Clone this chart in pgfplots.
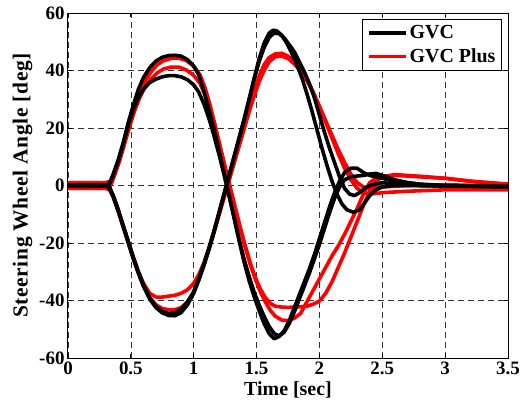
\documentclass[border=0pt]{standalone}
\usepackage{fontspec}
\setmainfont{Liberation Serif}
\newfontfamily\ylabfont[LetterSpace=3]{Liberation Serif}
\usepackage{pgfplots}
\pgfplotsset{compat=1.18}

\begin{document}
\begin{tikzpicture}
\begin{axis}[
    name=ax,
    scale only axis,
    width=440bp, height=345bp,
    xmin=0, xmax=3.5, ymin=-60, ymax=60,
    xtick={0,0.5,1,1.5,2,2.5,3,3.5},
    ytick={-60,-40,-20,0,20,40,60},
    grid=major,
    major grid style={black!80, line width=0.6bp, dash pattern=on 6bp off 4bp},
    axis line style={line width=1bp},
    tick style={black, line width=0.8bp},
    tick align=inside,
    major tick length=4bp,
    /pgf/number format/assume math mode=true,
    tick label style={font=\fontsize{19}{21}\selectfont\bfseries},
    xlabel style={font=\fontsize{20}{22}\selectfont\bfseries},
    ylabel style={font=\ylabfont\fontsize{21.5}{23}\selectfont\bfseries},
    xlabel={Time [sec]},
    ylabel={Steering Wheel Angle [deg]},
    legend style={at={(0.986,0.983)}, anchor=north east, draw=black, line width=0.8bp,
        font=\fontsize{20}{25}\selectfont\bfseries, cells={anchor=west},
        inner xsep=4bp, inner ysep=4bp, row sep=5bp},
    legend image code/.code={\draw[#1, line width=3.8bp] (0bp,0bp) -- (37bp,0bp);},
    every axis plot/.append style={line width=3.6bp, line join=round},
]
\addlegendimage{black}
\addlegendentry{GVC}
\addlegendimage{red}
\addlegendentry{GVC Plus}

% GVC Plus, positive first, peak 44
\addplot[red, forget plot] table {
0 1
0.30 1
0.34 1.5
0.37 4
0.41 9
0.45 15
0.49 21
0.53 27
0.57 32
0.61 36
0.66 39.5
0.71 42
0.76 43.4
0.82 44.2
0.88 44.3
0.94 43.5
1.00 41.5
1.05 38.5
1.09 34
1.13 28
1.17 21
1.21 13.5
1.25 6
1.29 -1
1.33 -8
1.37 -15
1.41 -21.5
1.45 -27.5
1.49 -32.5
1.53 -37
1.57 -40.5
1.61 -43.5
1.65 -45.5
1.70 -46.8
1.75 -47
1.80 -46.2
1.85 -44.5
1.90 -40.5
1.95 -36.5
2.00 -32.5
2.05 -28.5
2.10 -24.5
2.15 -21
2.20 -17
2.25 -12.5
2.30 -8
2.35 -3
2.40 1
2.45 2.5
2.50 3.3
2.60 3.5
2.70 3.3
2.80 3
3.00 2.5
3.20 1.5
3.50 0.5
};
% GVC Plus, positive first, peak 41
\addplot[red, forget plot] table {
0 -1
0.30 -1
0.34 0
0.37 3.5
0.41 8.5
0.45 14.5
0.49 20.5
0.53 26
0.57 30.5
0.61 34
0.66 37
0.71 39.2
0.76 40.5
0.82 41.2
0.88 41.2
0.94 40.2
1.00 38.3
1.05 35.5
1.09 31.5
1.13 26.5
1.17 20.5
1.21 13.5
1.25 6.5
1.29 -0.5
1.33 -7.5
1.37 -14.5
1.41 -21
1.45 -27
1.49 -32
1.53 -36
1.57 -39
1.61 -41
1.65 -42
1.70 -42.3
1.75 -42.4
1.80 -42.3
1.85 -42.2
1.90 -42
1.95 -41.3
2.00 -40.2
2.05 -37.5
2.10 -33.5
2.15 -28.5
2.20 -23.5
2.25 -18
2.30 -12.5
2.35 -7
2.40 -2
2.45 1.5
2.50 3
2.60 3.8
2.70 3.5
2.80 3.2
3.00 2.5
3.20 1.5
3.50 0.3
};
% GVC Plus, negative first, trough -43
\addplot[red, forget plot] table {
0 -1
0.30 -1
0.33 -1.5
0.36 -4
0.40 -9
0.44 -14.5
0.48 -20
0.52 -25.5
0.56 -30.5
0.60 -35
0.65 -39
0.70 -41.5
0.75 -42.8
0.80 -43.2
0.85 -43.2
0.90 -42.5
0.95 -40.5
1.00 -37
1.04 -32.5
1.08 -27.5
1.12 -22
1.16 -16
1.20 -10
1.24 -4
1.28 2
1.32 8
1.36 14
1.40 20
1.44 26.5
1.48 32.5
1.52 38
1.56 42
1.60 44.5
1.65 45.8
1.70 46
1.75 45
1.80 43
1.85 40.5
1.90 37
1.95 32.5
2.00 27.5
2.05 22
2.10 16.5
2.15 11
2.20 6
2.25 2
2.30 -1
2.35 -2.5
2.40 -3
2.50 -2.5
2.70 -2
3.00 -1.5
3.50 -1.5
};
% GVC Plus, negative first, trough -38
\addplot[red, forget plot] table {
0 0
0.30 0
0.33 -1
0.36 -3.5
0.40 -8.5
0.44 -14
0.48 -19.5
0.52 -25
0.56 -30
0.60 -34
0.65 -37.5
0.70 -38.8
0.75 -38.8
0.80 -38.5
0.85 -38.2
0.90 -37.5
0.95 -36.3
1.00 -34
1.04 -31
1.08 -27
1.12 -22
1.16 -16.5
1.20 -10.5
1.24 -4.5
1.28 1.5
1.32 7.5
1.36 13.5
1.40 19.5
1.44 25.5
1.48 31
1.52 36
1.56 40
1.60 43
1.65 44.8
1.70 45
1.75 44.2
1.80 42.3
1.85 39.8
1.90 36.5
1.95 32.3
2.00 27.5
2.05 22.5
2.10 17.5
2.15 12.5
2.20 8
2.25 4
2.30 1
2.35 -0.5
2.40 -1
2.50 -0.5
2.70 0
3.00 0.2
3.50 0
};

% GVC, positive first, peak 45
\addplot[black, forget plot] table {
0 0
0.30 0
0.33 0.8
0.36 4
0.40 9
0.44 15
0.48 22
0.52 28
0.56 33.5
0.60 37.5
0.65 41
0.70 43.3
0.75 44.6
0.80 45.2
0.85 45.3
0.90 45
0.95 43.8
1.00 41.5
1.04 38.5
1.08 33
1.12 26.5
1.16 20
1.20 12.5
1.24 4.5
1.28 -3
1.32 -11
1.36 -19
1.40 -26.5
1.44 -33
1.48 -38.5
1.52 -43.5
1.56 -48
1.60 -51.5
1.64 -53.3
1.68 -52.5
1.72 -50.5
1.76 -47
1.80 -42.5
1.84 -38
1.88 -33.5
1.92 -29
1.96 -24
2.00 -18.5
2.04 -13
2.08 -7.5
2.12 -2.5
2.16 1.5
2.20 4.5
2.25 6
2.30 6
2.35 4.5
2.40 3.5
2.45 3
2.50 2.5
2.60 1.5
2.70 1
2.80 0.5
3.00 0
3.50 -0.3
};
% GVC, positive first, peak 38
\addplot[black, forget plot] table {
0 0
0.30 0
0.33 0.5
0.36 3.5
0.40 8.5
0.44 14.5
0.48 21
0.52 26.5
0.56 30.5
0.60 33.5
0.65 35.8
0.70 37
0.75 37.8
0.80 38.2
0.85 38.2
0.90 37.8
0.95 36.8
1.00 35
1.04 32.5
1.08 28.5
1.12 23.5
1.16 17.5
1.20 11
1.24 4
1.28 -3.5
1.32 -11
1.36 -18.5
1.40 -25.5
1.44 -31.5
1.48 -37
1.52 -41.5
1.56 -45.5
1.60 -49
1.64 -51.5
1.68 -52.3
1.72 -51
1.76 -48
1.80 -44
1.84 -39.5
1.88 -35
1.92 -30.5
1.96 -25.5
2.00 -20.5
2.04 -15
2.08 -9.5
2.12 -4.5
2.16 -0.5
2.20 2
2.25 3
2.30 3.3
2.35 3.5
2.40 4
2.45 4.2
2.50 3.5
2.60 2
2.70 1
2.80 0.3
3.00 -0.2
3.50 -0.5
};
% GVC, negative first, trough -45
\addplot[black, forget plot] table {
0 0
0.30 0
0.33 -1
0.36 -4
0.40 -9
0.44 -14.5
0.48 -20
0.52 -25.5
0.56 -30.5
0.60 -35
0.65 -39.5
0.70 -42.5
0.75 -44.3
0.80 -45.2
0.85 -45.3
0.90 -44.2
0.95 -41.5
1.00 -37.5
1.04 -33
1.08 -28
1.12 -22.5
1.16 -16.5
1.20 -10
1.24 -3.5
1.28 3
1.32 9.5
1.36 16
1.40 22.5
1.44 29.5
1.48 37
1.52 44
1.56 49.5
1.60 53
1.63 54
1.66 53.8
1.70 52.3
1.74 49.5
1.78 46
1.82 42
1.86 37.5
1.90 32
1.94 26
1.98 19.5
2.02 13
2.06 7
2.10 1.5
2.14 -3
2.18 -6.5
2.22 -8.5
2.27 -9.3
2.32 -8.5
2.36 -6
2.40 -3.5
2.45 -1.5
2.50 -0.5
2.60 0
3.50 -0.3
};
% GVC, negative first, trough -44
\addplot[black, forget plot] table {
0 0
0.30 0
0.33 -0.5
0.36 -3.5
0.40 -8.5
0.44 -14
0.48 -19.5
0.52 -25
0.56 -30
0.60 -34.5
0.65 -39
0.70 -42
0.75 -43.8
0.80 -44.5
0.85 -44.3
0.90 -43
0.95 -40.5
1.00 -37
1.04 -32.5
1.08 -27.5
1.12 -22
1.16 -16
1.20 -9.5
1.24 -3
1.28 3.5
1.32 10
1.36 16.5
1.40 23
1.44 30
1.48 37
1.52 43
1.56 48
1.60 51.5
1.64 53
1.68 52.8
1.72 51.3
1.76 49
1.80 46.5
1.84 43
1.88 39.5
1.92 35.5
1.96 30.5
2.00 24.5
2.04 18.5
2.08 13
2.12 8
2.16 3
2.20 -1
2.24 -3
2.28 -3.5
2.32 -2.5
2.36 -1
2.40 0
2.50 1
2.60 0.5
2.80 0
3.50 -0.5
};
\end{axis}
\pgfresetboundingbox
\path[use as bounding box] ([xshift=-68bp,yshift=-48bp]ax.south west) rectangle ([xshift=18bp,yshift=13bp]ax.north east);
\end{tikzpicture}
\end{document}
